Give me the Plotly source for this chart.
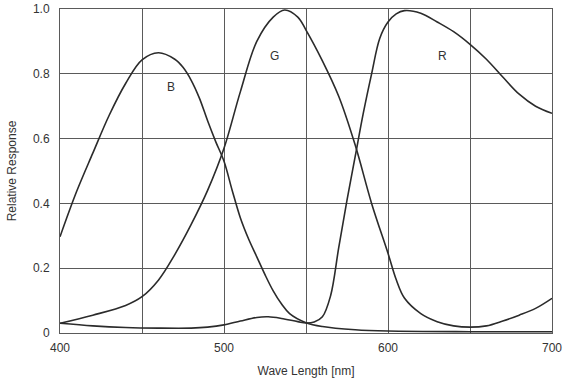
import plotly.graph_objects as go

# Blue channel
b_wl = [400, 410, 420, 430, 440, 450, 460, 470, 475, 480, 485, 490, 495, 500, 505, 510, 515, 520, 525, 530, 535, 540, 550, 560, 580, 600, 650, 700]
b_val = [0.297, 0.435, 0.555, 0.672, 0.77, 0.843, 0.865, 0.845, 0.82, 0.78, 0.725, 0.655, 0.59, 0.53, 0.44, 0.355, 0.29, 0.235, 0.18, 0.13, 0.09, 0.06, 0.032, 0.02, 0.01, 0.006, 0.004, 0.004]

# Green channel
g_wl = [400, 420, 440, 450, 460, 470, 480, 490, 500, 510, 520, 530, 537, 545, 550, 560, 570, 580, 590, 600, 605, 610, 620, 630, 640, 650, 660, 670, 680, 690, 700]
g_val = [0.03, 0.055, 0.085, 0.112, 0.163, 0.242, 0.335, 0.44, 0.57, 0.745, 0.90, 0.975, 0.997, 0.975, 0.935, 0.84, 0.73, 0.58, 0.40, 0.246, 0.165, 0.108, 0.06, 0.035, 0.022, 0.018, 0.022, 0.037, 0.055, 0.076, 0.107]

# Red channel
r_wl = [400, 420, 440, 460, 480, 490, 500, 510, 520, 527, 535, 545, 550, 555, 560, 565, 570, 575, 580, 585, 590, 595, 600, 605, 610, 620, 630, 640, 650, 660, 670, 680, 690, 700]
r_val = [0.03, 0.022, 0.017, 0.015, 0.015, 0.018, 0.025, 0.037, 0.048, 0.05, 0.045, 0.035, 0.031, 0.034, 0.05, 0.115, 0.265, 0.41, 0.545, 0.68, 0.80, 0.91, 0.96, 0.985, 0.995, 0.987, 0.96, 0.93, 0.891, 0.845, 0.79, 0.737, 0.70, 0.678]

labels = ["B", "G", "R"]
label_x = [467.7, 531, 633]
label_y = [0.76, 0.855, 0.855]

x_ticks = [400, 450, 500, 550, 600, 650, 700]
x_ticktext = ["400", "", "500", "", "600", "", "700"]
y_ticks = [0, 0.2, 0.4, 0.6, 0.8, 1.0]
y_ticktext = ["0", "0.2", "0.4", "0.6", "0.8", "1.0"]

line_col = "#2b2b2b"
grid_col = "#5a5a5a"

fig = go.Figure()
for wl, val in [(b_wl, b_val), (g_wl, g_val), (r_wl, r_val)]:
    fig.add_trace(go.Scatter(x=wl, y=val, mode="lines",
                             line=dict(color=line_col, width=1.6, shape="spline", smoothing=1.0),
                             showlegend=False, hoverinfo="skip"))

for t, lx, ly in zip(labels, label_x, label_y):
    fig.add_annotation(x=lx, y=ly, text=t, showarrow=False,
                       font=dict(family="Liberation Sans, Arial, sans-serif", size=12, color="#333333"))

fig.update_layout(
    width=571, height=385,
    margin=dict(l=60, r=19, t=9, b=52),
    paper_bgcolor="white", plot_bgcolor="white",
    font=dict(family="Liberation Sans, Arial, sans-serif", size=12, color="#333333"),
)
fig.update_xaxes(range=[400, 700], tickvals=x_ticks, ticktext=x_ticktext,
                 showgrid=True, gridcolor=grid_col, gridwidth=1,
                 showline=True, linecolor=grid_col, linewidth=1, mirror=True,
                 zeroline=False, ticks="outside", ticklen=4, tickcolor="rgba(0,0,0,0)",
                 automargin=False,
                 title=dict(text="Wave Length [nm]", standoff=12,
                            font=dict(size=12, color="#333333")))
fig.update_yaxes(range=[0, 1], tickvals=y_ticks, ticktext=y_ticktext,
                 showgrid=True, gridcolor=grid_col, gridwidth=1,
                 showline=True, linecolor=grid_col, linewidth=1, mirror=True,
                 zeroline=False, ticks="outside", ticklen=7, tickcolor="rgba(0,0,0,0)",
                 automargin=False,
                 title=dict(text="Relative Response", standoff=13,
                            font=dict(size=12, color="#333333")))

fig.write_html("out.html", config={"displayModeBar": False},
               post_script="document.body.style.margin='0';")
